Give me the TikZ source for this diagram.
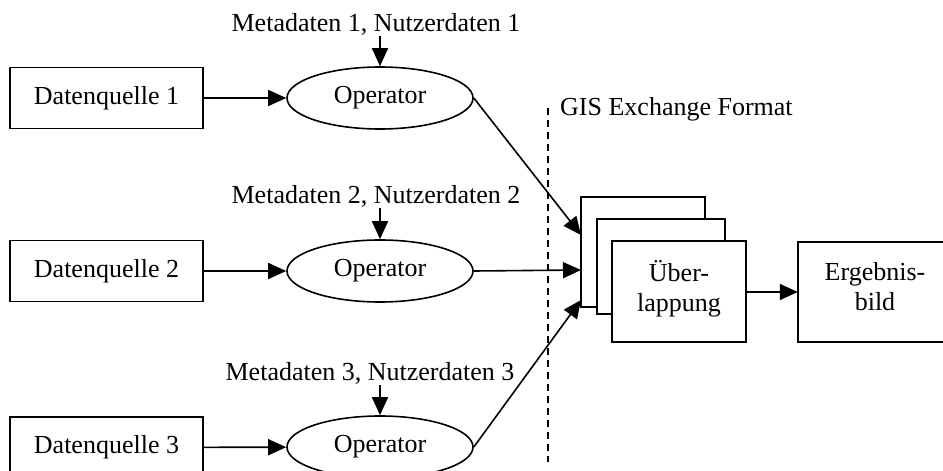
\documentclass[tikz,border=0pt]{standalone}
\usepackage{fontspec}
\setmainfont{Liberation Serif}
\usepackage{tikz}
\usetikzlibrary{shapes.geometric}
\usetikzlibrary{arrows.meta}

\tikzset{
  every node/.style={font=\fontsize{26}{30}\selectfont},
  source/.style={draw, rectangle, line width=1.6pt, minimum width=193pt, minimum height=61pt},
  operator/.style={draw, ellipse, line width=1.6pt, minimum width=186pt, minimum height=62pt, inner sep=0pt},
  sheet/.style={draw, rectangle, line width=1.6pt, fill=white, align=center},
  meta/.style={anchor=base, inner sep=1pt},
  flow/.style={line width=1.6pt, -{Triangle[length=18pt, width=16pt]}},
}

\begin{document}
\begin{tikzpicture}[x=1pt, y=-1pt]
            \useasboundingbox (0, 0) rectangle (943, 471);
            \clip (0, 0) rectangle (943, 471);

            \node (src1) at (106.5, 98) [source] {Datenquelle 1};
            \node (src2) at (106.5, 271) [source] {Datenquelle 2};
            \node (src3) at (106.5, 447.5) [source] {Datenquelle 3};

            \node (op1) at (380, 98) [operator] {Operator};
            \node (op2) at (380, 271) [operator] {Operator};
            \node (op3) at (380, 447) [operator] {Operator};

            \node (meta1) at (376, 31) [meta] {Metadaten 1, Nutzerdaten 1};
            \node (meta2) at (376, 203) [meta] {Metadaten 2, Nutzerdaten 2};
            \node (meta3) at (370, 380) [meta] {Metadaten 3, Nutzerdaten 3};

            % stacked sheets, back to front
            \node (ovA) at (643, 252) [sheet, minimum width=124pt, minimum height=110pt] {};
            \node (ovB) at (661, 266.5) [sheet, minimum width=128pt, minimum height=95pt] {};
            \node (ovC) at (679, 291.5) [sheet, minimum width=134pt, minimum height=101pt, text depth=12pt] {Über-\\lappung};

            % result box runs off the right edge
            \node (res) at (875, 292) [align=center, minimum width=154pt, minimum height=100pt, text depth=12pt] {Ergebnis-\\bild};
            \draw[line width=1.6pt] (1010, 242) -- (798, 242) -- (798, 342) -- (1010, 342);

            \node (gis) at (560, 115) [anchor=base west, inner sep=0pt] {GIS Exchange Format};
            \coordinate (gisTop) at (548, 108);
            \coordinate (gisBot) at (548, 462);
            \draw[line width=1.4pt, dash pattern=on 7pt off 5pt] (gisTop) -- (gisBot);

            \coordinate (inA1) at (581, 235);
            \coordinate (inA2) at (581, 270);
            \coordinate (inA3) at (581, 300);

            \draw[flow] (src1) -- (op1);
            \draw[flow] (src2) -- (op2);
            \draw[flow] (src3) -- (op3);

            \draw[flow] (meta1.south -| op1.north) -- (op1.north);
            \draw[flow] (meta2.south -| op2.north) -- (op2.north);
            \draw[flow] (meta3.south -| op3.north) -- (op3.north);

            \draw[flow] (op1.east) -- (inA1);
            \draw[flow] (op2.east) -- (inA2);
            \draw[flow] (op3.east) -- (inA3);

            \draw[flow] (ovC.east |- res.west) -- (res.west);
        \end{tikzpicture}
\end{document}
